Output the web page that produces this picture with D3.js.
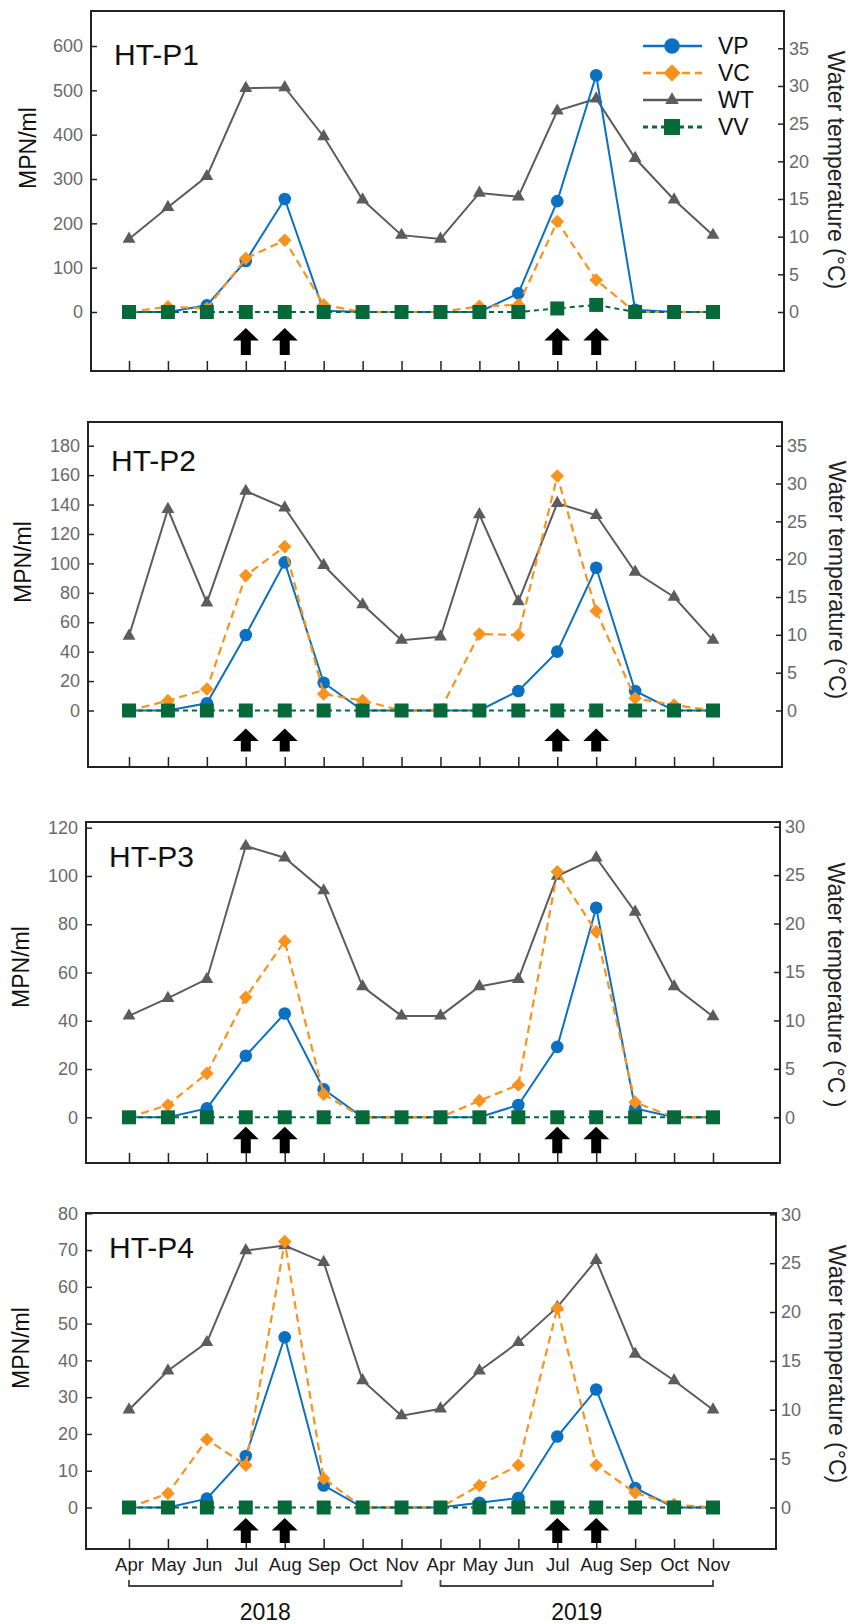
<!DOCTYPE html>
<html><head><meta charset="utf-8">
<script src="https://cdn.jsdelivr.net/npm/d3@7"></script>
<style>
html,body{margin:0;padding:0;background:#fff;}
svg{display:block;font-family:"Liberation Sans",Arial,sans-serif;}
</style></head>
<body>
<script>
// ---------- DATA ----------
const months = ["Apr","May","Jun","Jul","Aug","Sep","Oct","Nov","Apr","May","Jun","Jul","Aug","Sep","Oct","Nov"];
const years = ["2018","2019"];
const panelNames = ["HT-P1","HT-P2","HT-P3","HT-P4"];
const seriesNames = ["VP","VC","WT","VV"];
const arrowMonthIdx = [3,4,11,12];

const leftTicksP1 = [0,100,200,300,400,500,600];
const leftTicksP2 = [0,20,40,60,80,100,120,140,160,180];
const leftTicksP3 = [0,20,40,60,80,100,120];
const leftTicksP4 = [0,10,20,30,40,50,60,70,80];
const rightTicksP1 = [0,5,10,15,20,25,30,35];
const rightTicksP2 = [0,5,10,15,20,25,30,35];
const rightTicksP3 = [0,5,10,15,20,25,30];
const rightTicksP4 = [0,5,10,15,20,25,30];
const rightTitles = ["Water temperature (°C)","Water temperature (°C)","Water temperature (°C )","Water temperature (°C)"];

const p1VP = [0,0,15,115,255,3,0,0,0,0,42,250,534,5,0,0];
const p1VC = [0,12,8,121,162,16,0,0,0,13,16,204,72,0,0,0];
const p1WT = [9.7,13.9,18.0,29.7,29.8,23.3,14.9,10.2,9.7,15.8,15.3,26.7,28.3,20.4,14.9,10.2];
const p1VV = [0,0,0,0,0,0,0,0,0,0,0,8,16,0,0,0];

const p2VP = [0,0,4.9,51.3,100.7,18.9,0,0,0,0,13.3,40,97,13.3,0,0];
const p2VC = [0,6.7,14.6,91.7,111.4,11.2,6.7,0,0.5,52,51.3,159.4,67.6,8.3,3.7,0];
const p2WT = [9.85,26.6,14.25,29.0,26.8,19.2,14.0,9.3,9.75,25.9,14.4,27.4,25.8,18.3,15.0,9.3];
const p2VV = [0,0,0,0,0,0,0,0,0,0,0,0,0,0,0,0];

const p3VP = [0,0,3.7,25.5,43,11.6,0,0,0,0,5.1,29.2,86.8,3.7,0,0];
const p3VC = [0,5.1,18.2,49.7,73,9.6,0,0,0,6.9,13.4,101.7,76.9,6.2,0,0];
const p3WT = [10.47,12.3,14.26,28.0,26.8,23.4,13.5,10.47,10.47,13.5,14.26,24.9,26.8,21.2,13.5,10.4];
const p3VV = [0,0,0,0,0,0,0,0,0,0,0,0,0,0,0,0];

const p4VP = [0,0,2.4,14.0,46.3,6.0,0,0,0,1.3,2.6,19.3,32.1,5.3,0,0];
const p4VC = [0,3.8,18.5,11.5,72.3,7.9,0,0,0,6.0,11.5,54.2,11.5,4.0,0.8,0];
const p4WT = [10.0,14.0,16.9,26.3,26.8,25.1,13.0,9.4,10.1,14.0,16.9,20.5,25.3,15.7,13.0,10.0];
const p4VV = [0,0,0,0,0,0,0,0,0,0,0,0,0,0,0,0];

const panelData = [
  {VP:p1VP,VC:p1VC,WT:p1WT,VV:p1VV,lt:leftTicksP1,rt:rightTicksP1},
  {VP:p2VP,VC:p2VC,WT:p2WT,VV:p2VV,lt:leftTicksP2,rt:rightTicksP2},
  {VP:p3VP,VC:p3VC,WT:p3WT,VV:p3VV,lt:leftTicksP3,rt:rightTicksP3},
  {VP:p4VP,VC:p4VC,WT:p4WT,VV:p4VV,lt:leftTicksP4,rt:rightTicksP4}
];

// ---------- LAYOUT ----------
const layout = [
  {left:91,  right:784, top:11,  bottom:371,  zero:312,   lTop:46,    rTop:48.3,  arrowGap:16, arrowH:27, mpnX:28, mpnY:148,  wtX:836, wtY:170,  nameY:65},
  {left:88,  right:782, top:422, bottom:767,  zero:710.5, lTop:445.7, rTop:445.7, arrowGap:18, arrowH:23, mpnX:23, mpnY:562,  wtX:837, wtY:580,  nameY:471},
  {left:86,  right:780, top:822, bottom:1163, zero:1117.3,lTop:827.7, rTop:826.7, arrowGap:9.5,arrowH:26.5,mpnX:21, mpnY:967,  wtX:836, wtY:985,  nameY:867},
  {left:86,  right:776, top:1213,bottom:1549, zero:1507.5,lTop:1213.3,rTop:1214.3,arrowGap:10.5,arrowH:25, mpnX:21, mpnY:1348, wtX:837, wtY:1364, nameY:1258}
];
const xRange = [129, 713];

const colors = {VP:"#0B70C2", VC:"#F7931E", WT:"#5C5C5C", VV:"#05693A"};
const dashes = {VP:null, VC:"8,5", WT:null, VV:"5,4"};
const axisColor = "#222";
const tickTextColor = "#6a6a6a";

const svg = d3.select("body").append("svg").attr("width",853).attr("height",1624);

panelData.forEach((pd, pi) => {
  const L = layout[pi];
  const g = svg.append("g");
  const x = d3.scalePoint().domain(d3.range(months.length)).range(xRange);
  const yL = d3.scaleLinear().domain([0, d3.max(pd.lt)]).range([L.zero, L.lTop]);
  const yR = d3.scaleLinear().domain([0, d3.max(pd.rt)]).range([L.zero, L.rTop]);

  // left axis
  const ax = g.append("g").attr("transform",`translate(${L.left},0)`)
    .call(d3.axisLeft(yL).tickValues(pd.lt).tickSize(-6).tickPadding(8).tickFormat(d3.format("d")));
  ax.select(".domain").remove();
  ax.selectAll("line").attr("stroke",axisColor).attr("stroke-width",1.5);
  ax.selectAll("text").attr("fill",tickTextColor).style("font-size","18px").style("font-family","'Liberation Sans',Arial,sans-serif");

  // right axis
  const axr = g.append("g").attr("transform",`translate(${L.right},0)`)
    .call(d3.axisRight(yR).tickValues(pd.rt).tickSize(-6).tickPadding(5).tickFormat(d3.format("d")));
  axr.select(".domain").remove();
  axr.selectAll("line").attr("stroke",axisColor).attr("stroke-width",1.5);
  axr.selectAll("text").attr("fill",tickTextColor).style("font-size","18px").style("font-family","'Liberation Sans',Arial,sans-serif");

  // bottom axis
  const axb = g.append("g").attr("transform",`translate(0,${L.bottom})`)
    .call(d3.axisBottom(x).tickSize(-10).tickPadding(9).tickFormat(i => months[i]));
  axb.select(".domain").remove();
  axb.selectAll("line").attr("stroke",axisColor).attr("stroke-width",1.5);
  if(pi===3){
    axb.selectAll("text").attr("fill","#1a1a1a").style("font-size","18.5px").style("font-family","'Liberation Sans',Arial,sans-serif");
  } else {
    axb.selectAll("text").remove();
  }

  // frame
  g.append("rect").attr("x",L.left).attr("y",L.top).attr("width",L.right-L.left).attr("height",L.bottom-L.top)
    .attr("fill","none").attr("stroke",axisColor).attr("stroke-width",2);

  // titles
  g.append("text").attr("x",L.left+23).attr("y",L.nameY).text(panelNames[pi])
    .attr("font-size",30).attr("fill","#111");
  g.append("text").attr("transform",`translate(${L.mpnX},${L.mpnY}) rotate(-90)`)
    .attr("text-anchor","middle").attr("dominant-baseline","central")
    .attr("font-size",23).attr("fill","#111").text("MPN/ml");
  g.append("text").attr("transform",`translate(${L.wtX},${L.wtY}) rotate(90)`)
    .attr("text-anchor","middle").attr("dominant-baseline","central")
    .attr("font-size",23).attr("fill","#222").text(rightTitles[pi]);

  // arrows
  const aw = 26, hh = 12.5, sw = 10;
  g.selectAll("path.arrow").data(arrowMonthIdx).enter().append("path").attr("class","arrow")
    .attr("fill","#000")
    .attr("d", i => {
      const cx = x(i), t = L.zero + L.arrowGap, h = L.arrowH;
      return `M${cx},${t} L${cx+aw/2},${t+hh} L${cx+sw/2},${t+hh} L${cx+sw/2},${t+h} L${cx-sw/2},${t+h} L${cx-sw/2},${t+hh} L${cx-aw/2},${t+hh} Z`;
    });

  // series (drawing order)
  ["WT","VP","VC","VV"].forEach(key => {
    const vals = pd[key];
    const ys = key==="WT" ? yR : yL;
    const line = d3.line().x((d,i)=>x(i)).y(d=>ys(d));
    g.append("path").datum(vals).attr("d",line).attr("fill","none")
      .attr("stroke",colors[key]).attr("stroke-width", key==="VC"?2.2:2)
      .attr("stroke-dasharray",dashes[key]);
    const m = g.selectAll(null).data(vals).enter().append("path")
      .attr("fill",colors[key]);
    if(key==="VP") m.attr("d", d3.symbol().type(d3.symbolCircle).size(Math.PI*6.3*6.3)()).attr("transform",(d,i)=>`translate(${x(i)},${ys(d)})`);
    if(key==="VC") m.attr("d", d3.symbol().type(d3.symbolSquare).size(92)()).attr("transform",(d,i)=>`translate(${x(i)},${ys(d)}) rotate(45)`);
    if(key==="WT") m.attr("d", d3.symbol().type(d3.symbolTriangle).size(72)()).attr("transform",(d,i)=>`translate(${x(i)},${ys(d)})`);
    if(key==="VV") m.attr("d", d3.symbol().type(d3.symbolSquare).size(196)()).attr("transform",(d,i)=>`translate(${x(i)},${ys(d)})`);
  });

  // legend (panel 1 only)
  if(pi===0){
    const lg = g.append("g");
    const ly = d3.scalePoint().domain(seriesNames).range([46,127]);
    seriesNames.forEach(key => {
      const yy = ly(key);
      lg.append("line").attr("x1",643).attr("x2",702).attr("y1",yy).attr("y2",yy)
        .attr("stroke",colors[key]).attr("stroke-width",key==="VV"?3:2.5).attr("stroke-dasharray",dashes[key]);
      const mk = lg.append("path").attr("fill",colors[key]);
      if(key==="VP") mk.attr("d", d3.symbol().type(d3.symbolCircle).size(Math.PI*7.8*7.8)()).attr("transform",`translate(672,${yy})`);
      if(key==="VC") mk.attr("d", d3.symbol().type(d3.symbolSquare).size(150)()).attr("transform",`translate(672,${yy}) rotate(45)`);
      if(key==="WT") mk.attr("d", d3.symbol().type(d3.symbolTriangle).size(80)()).attr("transform",`translate(672,${yy})`);
      if(key==="VV") mk.attr("d", d3.symbol().type(d3.symbolSquare).size(256)()).attr("transform",`translate(672,${yy})`);
      lg.append("text").attr("x",718).attr("y",yy).attr("dominant-baseline","central")
        .attr("font-size",23).attr("fill","#111").text(key);
    });
  }

  // year brackets under last panel
  if(pi===3){
    const by = 1586;
    years.forEach((yr, k) => {
      const x0 = x(k*8), x1 = x(k*8+7);
      svg.append("path").attr("d",`M${x0},${by-6} L${x0},${by} L${x1},${by} L${x1},${by-6}`)
        .attr("fill","none").attr("stroke","#444").attr("stroke-width",1.8);
      svg.append("text").attr("x",(x0+x1)/2).attr("y",1620).attr("text-anchor","middle")
        .attr("font-size",23).attr("fill","#111").text(yr);
    });
  }
});
</script>
</body></html>
